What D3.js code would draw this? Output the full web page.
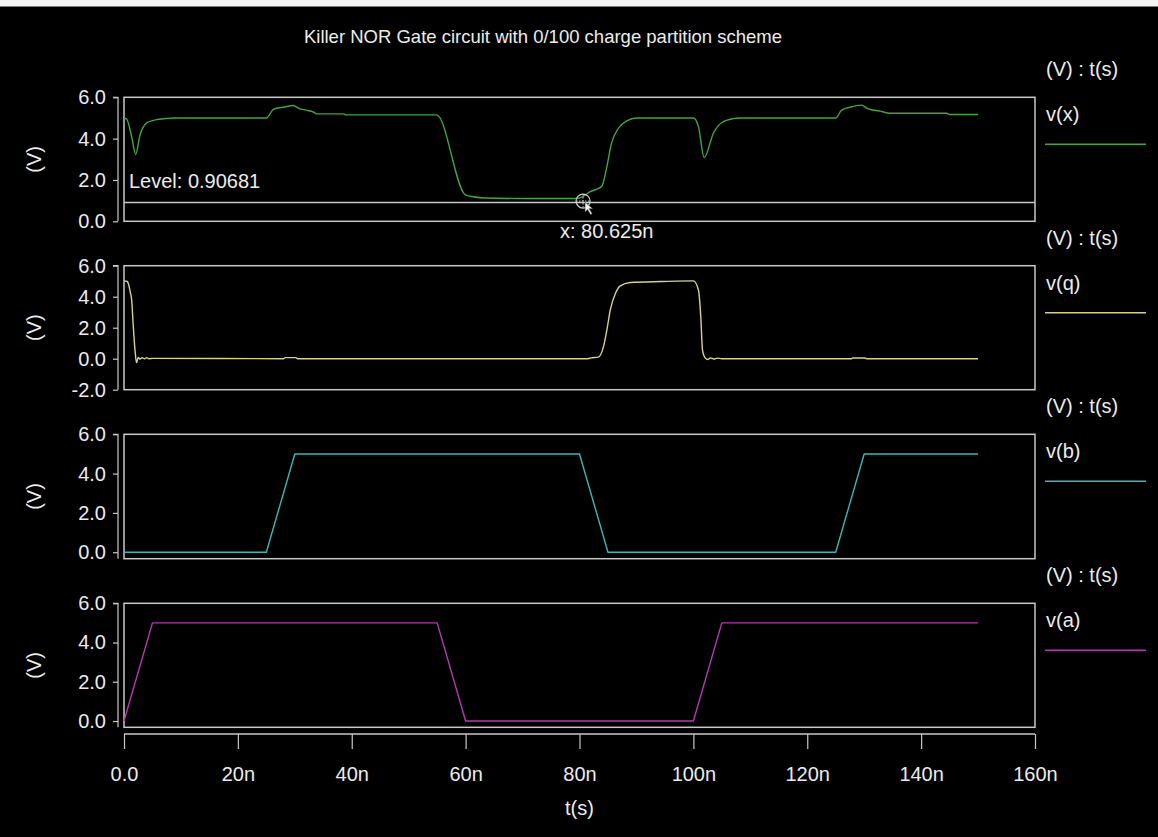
<!DOCTYPE html>
<html>
<head>
<meta charset="utf-8">
<script src="https://cdn.jsdelivr.net/npm/d3@7"></script>
<style>
  html, body { margin: 0; padding: 0; background: #000; }
  svg { display: block; }
  text { font-family: "Liberation Sans", Arial, Helvetica, sans-serif; fill: #ececec; }
</style>
</head>
<body>
<svg id="chart" width="1158" height="837"></svg>
<script>
// ---- Transient analysis results (time in ns, voltage in V) ----
const chartTitle = "Killer NOR Gate circuit with 0/100 charge partition scheme";

const vxTime = [0, 0.47, 1.35, 2.05, 2.8, 4.0, 5.15, 7.5, 8.7, 25, 26.2, 27, 28, 29.7, 30.9, 32, 33.3, 33.8, 38.5, 39,
  54.9, 59.9, 60.8, 63.4, 71.3, 79.5, 80.6, 81.8, 83.9, 84.8, 85.6, 86.8, 88.3, 90, 100, 100.9, 101.9, 103.5, 105, 107, 108,
  125, 126, 127.5, 129.5, 130.7, 132.8, 134.5, 144.5, 145, 150];
const vxVolt = [5.0, 4.95, 4.08, 3.24, 4.16, 4.76, 4.88, 4.98, 5.0, 5.0, 5.41, 5.48, 5.52, 5.6, 5.44, 5.38, 5.28, 5.2, 5.2, 5.15,
  5.15, 1.29, 1.21, 1.13, 1.1, 1.1, 1.2, 1.42, 1.69, 2.63, 3.76, 4.49, 4.86, 5.0, 5.0, 4.57, 3.08, 4.25, 4.78, 4.97, 5.0,
  5.0, 5.37, 5.52, 5.62, 5.44, 5.33, 5.23, 5.23, 5.17, 5.17];

const vqTime = [0, 0.5, 0.76, 1.1, 1.35, 1.6, 1.93, 2.2, 2.5, 2.8, 3.2, 3.6, 4.0, 4.4, 5, 28, 28.3, 30.2, 30.5,
  81.5, 82, 83.3, 84.2, 84.8, 85.4, 86.3, 87.1, 88.9, 94.4, 100, 100.9, 101.3, 101.6, 102, 102.5, 103, 103.6, 104.2, 105,
  127.8, 128, 130.2, 130.4, 150];
const vqVolt = [5.02, 5.0, 4.85, 4.3, 3.77, 2.27, 0.55, -0.25, 0.08, -0.02, 0.06, 0.0, 0.06, 0.0, 0.02, 0.0, 0.07, 0.07, 0.0,
  0.0, 0.05, 0.1, 0.76, 1.84, 3.13, 4.2, 4.68, 4.92, 4.98, 5.02, 4.42, 2.7, 0.55, 0.08, -0.05, 0.05, -0.02, 0.04, 0.0,
  0.0, 0.05, 0.05, 0.0, 0.0];

const vbTime = [0, 25, 30, 80, 85, 125, 130, 150];
const vbVolt = [0, 0, 5, 5, 0, 0, 5, 5];

const vaTime = [0, 5, 55, 60, 100, 105, 150];
const vaVolt = [0, 5, 5, 0, 0, 5, 5];

const timeTicks = [0, 20, 40, 60, 80, 100, 120, 140, 160];
const timeTickLabels = ["0.0", "20n", "40n", "60n", "80n", "100n", "120n", "140n", "160n"];

const levelValue = 0.90681;
const cursorTime = 80.625;

// ---- Layout ----
const svg = d3.select("#chart");
const W = 1158, H = 837;
const left = 124, right = 1035;
const frameColor = "#c8c8c8";

svg.append("rect").attr("x", 0).attr("y", 0).attr("width", W).attr("height", H).attr("fill", "#000");
svg.append("rect").attr("x", 0).attr("y", 0).attr("width", W).attr("height", 6.5).attr("fill", "#f4f4f4");

const x = d3.scaleLinear().domain([0, 160]).range([left, right]);

const panels = [
  { name: "v(x)", time: vxTime, volt: vxVolt, color: "#44a444", top: 97.3, bottom: 221.3, yMin: 0, yMax: 6, ticks: [0, 2, 4, 6], curve: d3.curveMonotoneX },
  { name: "v(q)", time: vqTime, volt: vqVolt, color: "#d6d28e", top: 265.7, bottom: 389.7, yMin: -2, yMax: 6, ticks: [-2, 0, 2, 4, 6], curve: d3.curveMonotoneX },
  { name: "v(b)", time: vbTime, volt: vbVolt, color: "#3fb6b6", top: 434.3, bottom: 558.7, yMin: -0.33, yMax: 6, ticks: [0, 2, 4, 6], curve: d3.curveLinear },
  { name: "v(a)", time: vaTime, volt: vaVolt, color: "#b13cb1", top: 603.3, bottom: 727.3, yMin: -0.32, yMax: 6, ticks: [0, 2, 4, 6], curve: d3.curveLinear }
];

// Plain hyphen for negative tick values
const voltFormat = d => (d < 0 ? "-" : "") + Math.abs(d).toFixed(1);

// Title
svg.append("text")
  .attr("x", 543).attr("y", 43)
  .attr("text-anchor", "middle")
  .attr("font-size", 18.5)
  .text(chartTitle);

panels.forEach((p) => {
  const y = d3.scaleLinear().domain([p.yMin, p.yMax]).range([p.bottom, p.top]);
  p.y = y;
  const g = svg.append("g");

  // frame
  g.append("rect")
    .attr("x", left).attr("y", p.top)
    .attr("width", right - left).attr("height", p.bottom - p.top)
    .attr("fill", "none").attr("stroke", frameColor).attr("stroke-width", 1.5);

  // y axis drawn slightly outside the frame
  const yAxis = d3.axisLeft(y).tickValues(p.ticks).tickSize(5).tickPadding(7).tickFormat(voltFormat);
  const ag = g.append("g").attr("transform", `translate(${left - 6},0)`).call(yAxis);
  ag.select(".domain").attr("stroke", frameColor).attr("stroke-width", 1.2)
    .attr("d", `M-5,${p.top}H0V${p.bottom}`);
  ag.selectAll(".tick line").attr("stroke", frameColor).attr("stroke-width", 1.2);
  ag.selectAll(".tick text").attr("font-size", 20).attr("fill", "#ececec")
    .attr("font-family", '"Liberation Sans", Arial, sans-serif');

  // y label
  g.append("text")
    .attr("transform", `translate(41,${(p.top + p.bottom) / 2}) rotate(-90)`)
    .attr("text-anchor", "middle")
    .attr("font-size", 20)
    .text("(V)");

  // legend at the right
  g.append("text").attr("x", 1046).attr("y", p.top - 21).attr("font-size", 20).text("(V) : t(s)");
  g.append("text").attr("x", 1046).attr("y", p.top + 24).attr("font-size", 20).text(p.name);
  g.append("line")
    .attr("x1", 1045).attr("x2", 1146)
    .attr("y1", p.top + 47).attr("y2", p.top + 47)
    .attr("stroke", p.color).attr("stroke-width", 1.5);

  // trace
  const pts = p.time.map((t, k) => [t, p.volt[k]]);
  g.append("path")
    .datum(pts)
    .attr("fill", "none")
    .attr("stroke", p.color)
    .attr("stroke-width", 1.4)
    .attr("stroke-linejoin", "round")
    .attr("d", d3.line().curve(p.curve).x(d => x(d[0])).y(d => y(d[1])));
});

// Level marker and cursor in the top panel
const p0 = panels[0];
const levelY = p0.y(levelValue);
svg.append("line")
  .attr("x1", left).attr("x2", right)
  .attr("y1", levelY).attr("y2", levelY)
  .attr("stroke", frameColor).attr("stroke-width", 1.5);
svg.append("text").attr("x", 129).attr("y", 188).attr("font-size", 20).text("Level: " + levelValue);

const cx = x(cursorTime), cy = levelY - 1.5;
svg.append("circle").attr("cx", cx).attr("cy", cy).attr("r", 7)
  .attr("fill", "none").attr("stroke", "#d0d0d0").attr("stroke-width", 1.2);
svg.append("line").attr("x1", cx - 7).attr("x2", cx + 7).attr("y1", cy).attr("y2", cy)
  .attr("stroke", "#d0d0d0").attr("stroke-width", 1).attr("stroke-dasharray", "1.5,1.5");
svg.append("line").attr("x1", cx).attr("x2", cx).attr("y1", cy - 7).attr("y2", cy + 7)
  .attr("stroke", "#d0d0d0").attr("stroke-width", 1).attr("stroke-dasharray", "1.5,1.5");
svg.append("path")
  .attr("d", `M${cx + 2},${cy + 1} l0,10 l2.5,-2.5 l3,5 l1.6,-0.9 l-3,-5 l3.5,0 Z`)
  .attr("fill", "#f0f0f0").attr("stroke", "#444").attr("stroke-width", 0.5);
svg.append("text").attr("x", 560).attr("y", 238).attr("font-size", 20)
  .text("x: " + cursorTime + "n");

// Shared time axis
const xAxis = d3.axisBottom(x).tickValues(timeTicks).tickSize(15).tickPadding(18)
  .tickFormat((d, k) => timeTickLabels[k]);
const xg = svg.append("g").attr("transform", "translate(0,734)").call(xAxis);
xg.select(".domain").attr("stroke", frameColor).attr("stroke-width", 1.5)
  .attr("d", `M${left},0H${right}`);
xg.selectAll(".tick line").attr("stroke", frameColor).attr("stroke-width", 1.2);
xg.selectAll(".tick text").attr("font-size", 20).attr("fill", "#ececec")
  .attr("font-family", '"Liberation Sans", Arial, sans-serif');

svg.append("text").attr("x", (left + right) / 2).attr("y", 815)
  .attr("text-anchor", "middle").attr("font-size", 20).text("t(s)");
</script>
</body>
</html>
